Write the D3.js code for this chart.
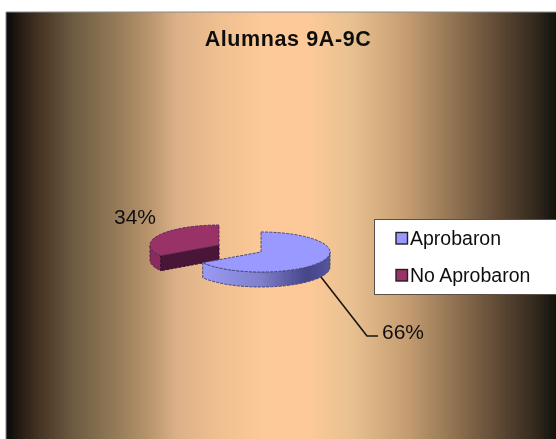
<!DOCTYPE html>
<html><head><meta charset="utf-8">
<script src="https://cdn.jsdelivr.net/npm/d3@7"></script>
<style>html,body{margin:0;padding:0;background:#fff}svg{display:block}text{font-family:"Liberation Sans",Arial,sans-serif;fill:#111}</style>
</head><body><svg id="c" width="556" height="439"></svg>
<script>
const categories = ["Aprobaron", "No Aprobaron"];
const values = [66, 34];
const labels = ["66%", "34%"];
const title = "Alumnas 9A-9C";
const topColors = ["#9999ff", "#993366"];
const bgStops = [[0,"#080605"],[0.03,"#2a2018"],[0.06,"#453324"],[0.12,"#6b5a40"],[0.2,"#957a58"],[0.26,"#b8946c"],[0.31,"#dcb088"],[0.39,"#f0c090"],[0.47,"#fdc998"],[0.55,"#fdc998"],[0.63,"#e8c090"],[0.73,"#c49c70"],[0.82,"#8e7050"],[0.92,"#4f3d2c"],[0.97,"#2e261a"],[1,"#14100c"]];

const svg = d3.select("#c");
const defs = svg.append("defs");
const bg = defs.append("linearGradient").attr("id","bg");
bgStops.forEach(s=>bg.append("stop").attr("offset",s[0]).attr("stop-color",s[1]));
const wall = defs.append("linearGradient").attr("id","wallBlue");
[[0,"#9a9af5"],[0.45,"#8080cc"],[0.82,"#45458a"],[1,"#55559c"]].forEach(s=>wall.append("stop").attr("offset",s[0]).attr("stop-color",s[1]));
const blur = defs.append("filter").attr("id","soft").attr("x","-5%").attr("y","-5%").attr("width","110%").attr("height","110%");
blur.append("feGaussianBlur").attr("stdDeviation",0.6);

const root = svg.append("g").attr("filter","url(#soft)");
root.append("rect").attr("x",6).attr("y",12).attr("width",550).attr("height",427).attr("fill","url(#bg)");
root.append("path").attr("d","M6,439V12H556").attr("fill","none").attr("stroke","#8a8a8a").attr("stroke-width",1);

root.append("text").attr("x",288).attr("y",46).attr("text-anchor","middle")
  .attr("font-size",21.5).attr("font-weight","bold").attr("letter-spacing",0.6).text(title);

const rx = 69, ry = 20, depth = 15;
const centers = [[261,252],[219,245]];
const pie = d3.pie().sort(null).value(d=>d)(values);
const pt = (c,a,dy=0)=>[c[0]+rx*Math.sin(a), c[1]-ry*Math.cos(a)+dy];
const line = d3.line();
const arcPts = (c,a0,a1,dy)=>d3.range(0,41).map(i=>pt(c,a0+(a1-a0)*i/40,dy));
const style = (s,fill,st)=>s.attr("fill",fill).attr("stroke",st).attr("stroke-width",1).attr("stroke-dasharray","3 1.2").attr("stroke-linejoin","round");

// red slice (drawn first: exploded to the back-left)
(function(){
  const c = centers[1], s = pie[1];
  const a0 = s.startAngle;
  const w1 = Math.PI*1.5;
  style(root.append("path").attr("d",line(arcPts(c,a0,w1,0).concat(arcPts(c,w1,a0,depth)))+"Z"),"#8a2c5e","#5a2050");
  style(root.append("path").attr("d",line([c,pt(c,a0),pt(c,a0,depth),[c[0],c[1]+depth]])+"Z"),"#4a1238","#3a1030");
  const g = root.append("g").attr("transform",`translate(${c[0]},${c[1]}) scale(1,${ry/rx})`);
  style(g.append("path").attr("d",d3.arc().innerRadius(0).outerRadius(rx)(s)),topColors[1],"#5a2a5e").attr("vector-effect","non-scaling-stroke");
})();
// blue slice
(function(){
  const c = centers[0], s = pie[0];
  const w0 = Math.PI/2, w1 = s.endAngle;
  style(root.append("path").attr("d",line(arcPts(c,w0,w1,0).concat(arcPts(c,w1,w0,depth)))+"Z"),"url(#wallBlue)","#4a4a80");
  const g = root.append("g").attr("transform",`translate(${c[0]},${c[1]}) scale(1,${ry/rx})`);
  style(g.append("path").attr("d",d3.arc().innerRadius(0).outerRadius(rx)(s)),topColors[0],"#4a4a80").attr("vector-effect","non-scaling-stroke");
})();

// leader
root.append("path").attr("d",line([[321,277],[367,336],[378,336]])).attr("fill","none").attr("stroke","#1a1410").attr("stroke-width",1.6);
root.append("text").attr("x",382).attr("y",339).attr("font-size",21).text(labels[0]);
root.append("text").attr("x",114).attr("y",224).attr("font-size",21).text(labels[1]);

// legend
root.append("rect").attr("x",374.5).attr("y",219.5).attr("width",182).attr("height",75).attr("fill","#fff").attr("stroke","#5a5048").attr("stroke-width",1);
const rows = d3.scalePoint().domain(categories).range([245,282]);
categories.forEach((c,i)=>{
  const b = rows(c);
  root.append("rect").attr("x",396).attr("y",b-12.5).attr("width",11.5).attr("height",11.5).attr("fill",topColors[i]).attr("stroke","#222").attr("stroke-width",1.4);
  root.append("text").attr("x",410).attr("y",b).attr("font-size",19.5).text(c);
});
</script></body></html>
